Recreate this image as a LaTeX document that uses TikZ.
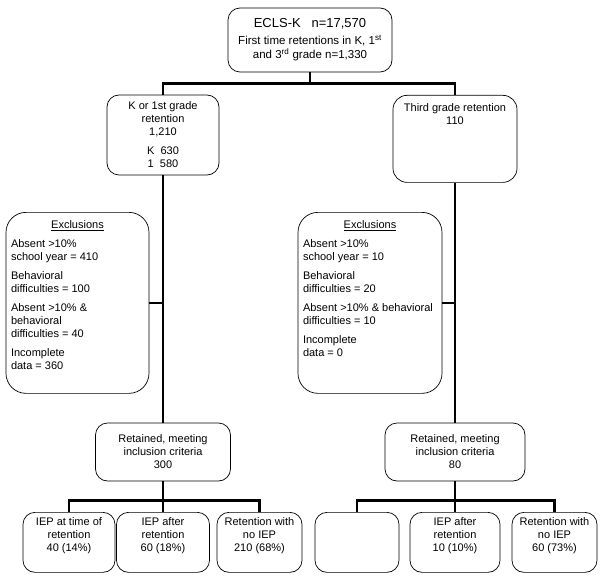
\documentclass[tikz,border=0pt]{standalone}
\usepackage{fontspec}
\setmainfont{Liberation Sans}
\usetikzlibrary{calc}
\tikzset{
    flowbox/.style={
        draw, line width=0.7pt, rounded corners=12pt, align=center,
        inner sep=0pt, font=\fontsize{11}{13}\selectfont
    },
    topbox/.style={
        flowbox, anchor=north, inner xsep=5pt, inner ysep=8pt
    },
    leaf/.style={
        flowbox, anchor=north, inner ysep=5pt
    },
    link/.style={line width=2.6pt}
}

\begin{document}
\begin{tikzpicture}[x=1pt,y=-1pt, line cap=butt, line join=miter]
\useasboundingbox (0,0) rectangle (600,578);

\def\exheight{165pt}
\def\leafheight{50pt}

% whole sample
\node[flowbox, minimum width=164pt, minimum height=64pt, font=\fontsize{11.5}{14}\selectfont] (ecls) at (310,40)
  {{\fontsize{13}{16}\selectfont ECLS-K~~~n=17,570}\\[3pt]First time retentions in K, 1\textsuperscript{st}\\and 3\textsuperscript{rd} grade n=1,330};

% the two branches
\node[flowbox, minimum width=112pt, minimum height=80pt] (early) at (163,135)
  {K or 1st grade\\retention\\1,210\\[6pt]K~~630\\1~~580};
\node[topbox, rounded corners=14pt] (third) at (455,95)
  {\parbox[t][71pt][t]{114pt}{\centering Third grade retention\\110}};

% exclusions
\node[topbox, rounded corners=20pt] (exclA) at (77.5,212)
  {\parbox[t][\exheight][t]{133pt}{\centering\underline{Exclusions}\par\vspace{6pt}\raggedright
   Absent >10\%\\school year = 410\\[6pt]
   Behavioral\\difficulties = 100\\[6pt]
   Absent >10\% \&\\behavioral\\difficulties = 40\\[6pt]
   Incomplete\\data = 360\par}};
\node[topbox, rounded corners=20pt] (exclB) at (370,212)
  {\parbox[t][\exheight][t]{134pt}{\centering\underline{Exclusions}\par\vspace{6pt}\raggedright
   Absent >10\%\\school year = 10\\[6pt]
   Behavioral\\difficulties = 20\\[6pt]
   Absent >10\% \& behavioral\\difficulties = 10\\[6pt]
   Incomplete\\data = 0\par}};

% retained groups
\node[flowbox, minimum width=135pt, minimum height=58pt] (keptA) at (163,452)
  {Retained, meeting\\inclusion criteria\\300};
\node[flowbox, minimum width=140pt, minimum height=58pt] (keptB) at (455,452)
  {Retained, meeting\\inclusion criteria\\80};

% IEP groups
\node[leaf, minimum width=92pt] (iepA) at (69,512)
  {\parbox[t][\leafheight][t]{88pt}{\centering IEP at time of\\retention\\40 (14\%)}};
\node[leaf, minimum width=93pt] (lateA) at (163,512)
  {\parbox[t][\leafheight][t]{88pt}{\centering IEP after\\retention\\60 (18\%)}};
\node[leaf, minimum width=85pt] (noiepA) at (259.5,512)
  {\parbox[t][\leafheight][t]{82pt}{\centering Retention with\\no IEP\\210 (68\%)}};
\node[leaf, minimum width=84pt] (blankB) at (357,512)
  {\parbox[t][\leafheight][t]{80pt}{}};
\node[leaf, minimum width=90pt] (lateB) at (455,512)
  {\parbox[t][\leafheight][t]{86pt}{\centering IEP after\\retention\\10 (10\%)}};
\node[leaf, minimum width=85pt] (noiepB) at (554.5,512)
  {\parbox[t][\leafheight][t]{82pt}{\centering Retention with\\no IEP\\60 (73\%)}};

% trunk lines
\draw[link] (ecls.south) -- ++(0,11) coordinate (split);
\draw[link] (early.north) |- (split) -| (third.north);
\draw[link] (early) -- (keptA);
\draw[link] (third) -- (keptB);
\draw[link] (exclA.east) -- (exclA.east -| early.south);
\draw[link] (exclB.east) -- (exclB.east -| third.south);

% splits to the IEP groups
\draw[link] (keptA.south) -- ++(0,19) coordinate (splitA);
\draw[link] (iepA.north) |- (splitA) -| (noiepA.north);
\draw[link] (splitA) -- (lateA.north);
\draw[link] (keptB.south) -- ++(0,19) coordinate (splitB);
\draw[link] (blankB.north) |- (splitB) -| (noiepB.north);
\draw[link] (splitB) -- (lateB.north);

\end{tikzpicture}
\end{document}
